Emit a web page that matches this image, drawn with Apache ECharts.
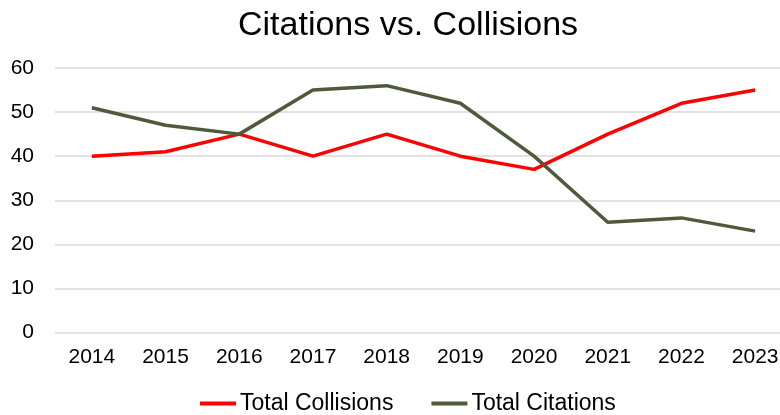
<!DOCTYPE html>
<html lang="en">
<head>
    <meta charset="UTF-8">
    <title>Citations vs. Collisions</title>
    <script src="https://cdn.jsdelivr.net/npm/echarts@6/dist/echarts.min.js"></script>
</head>
<body style="margin:0">
<div id="main" style="width: 780px;height:415px;"></div>
<script type="text/javascript">
    var years = ['2014', '2015', '2016', '2017', '2018', '2019', '2020', '2021', '2022', '2023'];
    var collisions = [40, 41, 45, 40, 45, 40, 37, 45, 52, 55];
    var citations = [51, 47, 45, 55, 56, 52, 40, 25, 26, 23];

    var myChart = echarts.init(document.getElementById('main'));
    var font = 'Liberation Sans, Arial, sans-serif';

    var option = {
        animation: false,
        title: {
            text: 'Citations vs. Collisions',
            left: 233,
            top: 4,
            textStyle: {fontFamily: font, fontSize: 34, fontWeight: 'normal', color: '#000'}
        },
        legend: {
            bottom: -5,
            left: 195,
            icon: 'rect',
            itemWidth: 36,
            itemHeight: 4,
            itemGap: 38,
            textStyle: {fontFamily: font, fontSize: 23, color: '#000', padding: [0, 0, 0, -1]},
            data: ['Total Collisions', 'Total Citations']
        },
        grid: {left: 55, top: 68, right: -12, height: 264.5, outerBoundsMode: 'none', containLabel: false},
        xAxis: {
            type: 'category',
            data: years,
            axisLine: {show: false},
            axisTick: {show: false},
            axisLabel: {fontFamily: font, fontSize: 21, color: '#000', margin: 14}
        },
        yAxis: {
            type: 'value',
            min: 0,
            max: 60,
            interval: 10,
            axisLabel: {fontFamily: font, fontSize: 21, color: '#000', margin: 21},
            splitLine: {lineStyle: {color: '#d9d9d9', width: 1.5}}
        },
        series: [
            {
                name: 'Total Collisions',
                type: 'line',
                data: collisions,
                showSymbol: false,
                lineStyle: {color: '#ff0000', width: 3.5},
                itemStyle: {color: '#ff0000'}
            },
            {
                name: 'Total Citations',
                type: 'line',
                data: citations,
                showSymbol: false,
                lineStyle: {color: '#4e5a3b', width: 3.5},
                itemStyle: {color: '#4e5a3b'}
            }
        ]
    };
    myChart.setOption(option);
</script>
</body>
</html>
